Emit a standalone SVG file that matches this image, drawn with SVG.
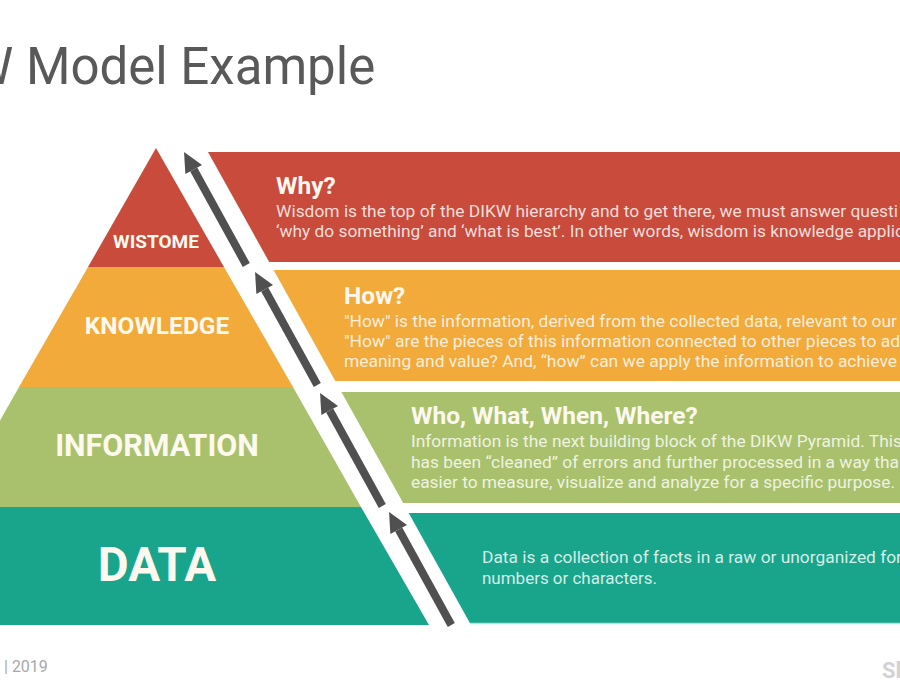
<svg xmlns="http://www.w3.org/2000/svg" width="900" height="700" viewBox="0 0 900 700">
<style>
.title{font-family:Roboto,"Liberation Sans",sans-serif;font-size:51px;fill:#595959}
.lvl{font-family:Roboto,"Liberation Sans",sans-serif;font-weight:bold;fill:#fdf9ee;text-anchor:middle}
.hd{font-family:Roboto,"Liberation Sans",sans-serif;font-weight:bold;font-size:24.5px;fill:#fdf8ef}
.bd{font-family:Roboto,"Liberation Sans",sans-serif;font-size:16.5px;fill:#ffffff;fill-opacity:0.82}
.arr{stroke:#505050;stroke-width:8;fill:none;marker-end:url(#ah)}
.foot{font-family:Roboto,"Liberation Sans",sans-serif;font-size:16px;fill:#a8a8a8}
</style>
<defs>
<marker id="ah" markerUnits="userSpaceOnUse" markerWidth="20" markerHeight="19" viewBox="0 0 20 19" refX="0" refY="9.5" orient="auto" overflow="visible">
<path d="M0,0 L20,9.5 L0,19 Z" fill="#505050"/>
</marker>
</defs>
<rect width="900" height="700" fill="#ffffff"/>
<text class="title" x="-32" y="84">W Model Example</text>

<g id="level-wisdom">
<polygon points="156,148 224,267 88,267" fill="#c84b3c"/>
<text class="lvl" x="156" y="248" font-size="19">WISTOME</text>
</g>
<g id="level-knowledge">
<polygon points="88,267 224,267 293,387 19,387" fill="#f2aa3b"/>
<text class="lvl" x="157" y="334" font-size="24.5">KNOWLEDGE</text>
</g>
<g id="level-information">
<polygon points="19,387 293,387 361,507 -49,507" fill="#a9c16c"/>
<text class="lvl" x="157" y="456" font-size="30.5">INFORMATION</text>
</g>
<g id="level-data">
<polygon points="-49,507 361,507 429,625 -117,625" fill="#18a58c"/>
<text class="lvl" x="157" y="581" font-size="47.5">DATA</text>
</g>

<g id="box-why">
<polygon points="208,152 905,152 905,262 269.2,262" fill="#c84b3c"/>
<text class="hd" x="276" y="194">Why?</text>
<text class="bd" x="276" y="217" textLength="622" lengthAdjust="spacingAndGlyphs">Wisdom  is the top of the DIKW hierarchy and to get there, we must answer questi</text>
<text class="bd" x="276" y="237" textLength="628" lengthAdjust="spacingAndGlyphs">‘why do something’ and ‘what is best’. In other words, wisdom is knowledge applic</text>
</g>
<g id="box-how">
<polygon points="273.6,270 905,270 905,381 335.3,381" fill="#f2aa3b"/>
<text class="hd" x="344" y="304">How?</text>
<text class="bd" x="344" y="327" textLength="553" lengthAdjust="spacingAndGlyphs">"How" is the information,  derived from the collected data, relevant to our</text>
<text class="bd" x="344" y="347" textLength="556" lengthAdjust="spacingAndGlyphs">"How" are the pieces of this information  connected to other pieces to ad</text>
<text class="bd" x="344" y="367" textLength="553" lengthAdjust="spacingAndGlyphs">meaning and value? And, “how” can we apply the information  to achieve</text>
</g>
<g id="box-who">
<polygon points="341.4,392 905,392 905,503 403.2,503" fill="#a9c16c"/>
<text class="hd" x="411" y="424">Who, What, When, Where?</text>
<text class="bd" x="411" y="447" textLength="491" lengthAdjust="spacingAndGlyphs">Information  is the next building block of the DIKW Pyramid.  This</text>
<text class="bd" x="411" y="468" textLength="488" lengthAdjust="spacingAndGlyphs">has been “cleaned” of errors and further processed in a way tha</text>
<text class="bd" x="411" y="488" textLength="484" lengthAdjust="spacingAndGlyphs">easier to measure, visualize and analyze for a specific purpose.</text>
</g>
<g id="box-data">
<polygon points="408.7,513 905,513 905,623 469.9,623" fill="#18a58c"/>
<line x1="469.9" y1="623.5" x2="905" y2="623.5" stroke="#a6e8df" stroke-width="1.5"/>
<text class="bd" x="482" y="563" textLength="420" lengthAdjust="spacingAndGlyphs">Data is a collection of facts in a raw or unorganized  for</text>
<text class="bd" x="482" y="584" textLength="175" lengthAdjust="spacingAndGlyphs">numbers  or characters.</text>
</g>

<g id="connectors">
<line class="arr" x1="246.3" y1="265" x2="193.7" y2="169.5"/>
<line class="arr" x1="317.3" y1="385" x2="264.7" y2="289.5"/>
<line class="arr" x1="382.3" y1="506" x2="329.7" y2="410.5"/>
<line class="arr" x1="451.3" y1="625" x2="398.7" y2="529.5"/>
</g>

<text class="foot" x="4" y="672">| 2019</text>
<text x="882" y="678" font-family="Roboto,'Liberation Sans',sans-serif" font-weight="bold" font-size="22" fill="#d2d2d2">Sl</text>
</svg>
